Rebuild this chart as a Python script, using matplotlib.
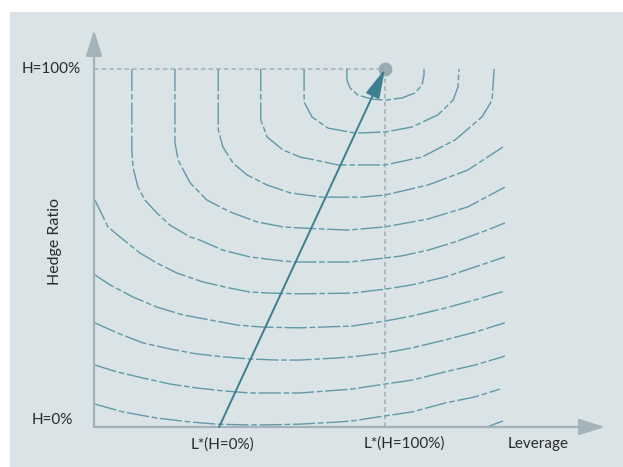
import matplotlib
matplotlib.use("Agg")
import matplotlib.pyplot as plt
from matplotlib.patches import Rectangle

# leverage in units where L*(H=100%) = 100, hedge ratio in %
lev_opt_h0 = 43.0
lev_opt_h100 = 100.0
lev_max = 175.6
hedge_max = 110.9

# iso-utility curves (leverage, hedge ratio %)
curves = [
    ([86.9, 86.9, 88.0, 90.7, 95.5, 100, 105.8, 110.3, 112.7, 113.4, 113.4],
     [100, 96.9, 94.7, 92.7, 91.6, 91.3, 91.9, 93.3, 95.5, 98.3, 100]),
    ([72.2, 72.2, 74.9, 80.4, 89.7, 100, 109.3, 118.2, 123.4, 125.1, 125.4],
     [100, 90.8, 86.6, 83.5, 82.1, 82.4, 83.8, 87.2, 91.3, 95.0, 100]),
    ([57.3, 57.3, 59.5, 64.9, 70.8, 75.9, 83.8, 100, 112.7, 124.1, 133.3, 136.8, 137.5],
     [100, 85.8, 81.0, 77.4, 75.4, 74.6, 73.2, 73.2, 75.4, 80.2, 86.6, 91.3, 100]),
    ([42.7, 42.7, 44.3, 47.8, 52.6, 59.5, 67.4, 78.4, 92.1, 100, 114.8, 128.5, 140.5],
     [100, 83.0, 78.2, 73.7, 70.4, 67.6, 65.4, 64.2, 64.2, 64.8, 67.6, 71.8, 78.2]),
    ([27.8, 27.8, 28.9, 33.0, 38.8, 46.7, 56.0, 64.9, 70.8, 87.3, 100, 114.8, 128.5, 141.2],
     [100, 79.6, 74.6, 68.2, 63.4, 60.1, 57.3, 55.9, 55.6, 55.0, 55.9, 58.1, 61.5, 67.0]),
    ([13.0, 13.0, 13.4, 15.1, 17.5, 21.6, 26.1, 33.0, 36.4, 44.3, 53.6, 64.6, 69.1, 88.0,
      100, 105.8, 114.8, 124.1, 135.1, 141.2],
     [100, 77.4, 72.6, 67.0, 63.4, 59.8, 56.4, 53.1, 52.2, 49.4, 47.5, 46.4, 46.1, 46.1,
      47.2, 47.8, 49.4, 51.7, 55.0, 57.0]),
    ([0.3, 4.8, 8.9, 15.8, 21.6, 28.5, 37.5, 46.7, 53.6, 60.5, 70.8, 88.7, 100, 109.3,
      120.6, 130.9, 141.2],
     [63.4, 55.9, 53.1, 48.6, 45.8, 43.0, 40.5, 38.8, 37.7, 37.4, 37.2, 37.4, 38.5, 39.7,
      41.9, 44.7, 47.5]),
    ([0.3, 5.5, 13.4, 21.6, 30.6, 39.9, 49.1, 58.1, 70.8, 88.7, 100, 109.3, 120.6, 130.9, 141.2],
     [42.5, 39.7, 36.3, 33.5, 31.3, 29.9, 28.5, 27.9, 27.7, 28.2, 29.6, 31.0, 33.2, 35.5, 38.0]),
    ([0.3, 7.9, 16.8, 26.1, 35.4, 44.3, 53.6, 62.9, 70.8, 83.8, 88.7, 100, 109.3, 120.6, 130.9, 141.2],
     [29.1, 26.3, 23.5, 21.8, 20.4, 19.6, 19.0, 18.7, 18.7, 19.3, 19.6, 20.7, 22.1, 24.3, 26.5, 29.1]),
    ([0.3, 7.9, 16.8, 26.1, 35.4, 44.3, 53.6, 62.9, 70.8, 83.8, 88.7, 100, 109.3, 120.6, 130.9, 141.2],
     [17.3, 15.4, 13.7, 12.0, 10.9, 10.1, 9.5, 9.5, 9.5, 10.3, 10.6, 12.0, 13.1, 15.4, 17.3, 19.8]),
    ([0.3, 10.0, 21.6, 33.0, 42.3, 51.2, 60.5, 70.8, 83.8, 88.7, 100, 109.3, 120.6, 130.9, 139.5],
     [6.4, 4.2, 2.5, 1.4, 0.8, 0.6, 0.6, 0.8, 1.4, 1.7, 3.1, 4.2, 6.7, 8.4, 10.6]),
    ([135.1, 140.5],
     [0, 1.7]),
]

plt.rcParams['font.family'] = ['Lato', 'DejaVu Sans']
axis_col = "#a3b3b9"
txt_col = "#2b2b2b"

fig = plt.figure(figsize=(6.23, 4.67), dpi=100)
fig.patch.set_facecolor("white")
# grey-blue panel behind the chart
fig.patches.append(Rectangle((10 / 623, 0), 613 / 623, 455 / 467, transform=fig.transFigure,
                             facecolor="#dae3e6", edgecolor="none", zorder=-10))

ax = fig.add_axes([94 / 623, 40 / 467, 520 / 623, 400 / 467])
ax.set_zorder(1)
ax.set_xlim(0, 520 / 2.91)
ax.set_ylim(0, 400 / 3.58)
ax.patch.set_alpha(0)
for s in ax.spines.values():
    s.set_visible(False)
ax.set_xticks([])
ax.set_yticks([])

# axes with arrow heads
arr = dict(arrowstyle="-|>,head_length=1.6,head_width=0.5", color=axis_col, lw=1.6,
           shrinkA=0, shrinkB=0)
ax.annotate("", xy=(0, hedge_max), xytext=(0, 0), arrowprops=arr, annotation_clip=False)
ax.annotate("", xy=(lev_max, 0), xytext=(0, 0), arrowprops=arr, annotation_clip=False)

# reference dashed lines
ax.plot([0, lev_opt_h100], [100, 100], color="#a0b0b6", lw=1.1, ls=(0, (3, 2)))
ax.plot([lev_opt_h100, lev_opt_h100], [0, 100], color="#a0b0b6", lw=1.1, ls=(0, (3, 2)))

for lx, hy in curves:
    ax.plot(lx, hy, color="#6099a8", lw=1.0, ls=(0, (16, 2, 4, 2)), solid_capstyle="butt")

# optimum point and path of optimal leverage
ax.plot([lev_opt_h100], [100], "o", ms=9, color="#9aacb3", zorder=5)
ax.annotate("", xy=(lev_opt_h100, 100), xytext=(lev_opt_h0, 0),
            arrowprops=dict(arrowstyle="-|>,head_length=1.8,head_width=0.45",
                            color="#3e7f8f", lw=1.4, shrinkA=0, shrinkB=0), zorder=6)

ax.text(-4.5, 100, "H=100%", ha="right", va="center", fontsize=11, color=txt_col)
ax.text(-7.2, 2.0, "H=0%", ha="right", va="center", fontsize=11, color=txt_col)
ax.text(-13.4, 51.7, "Hedge Ratio", ha="center", va="center", rotation=90, fontsize=11.5,
        color=txt_col)
ax.text(44, -5.0, "L*(H=0%)", ha="center", va="center", fontsize=11, color=txt_col)
ax.text(106.7, -4.7, "L*(H=100%)", ha="center", va="center", fontsize=11, color=txt_col)
ax.text(152.6, -4.7, "Leverage", ha="center", va="center", fontsize=11, color=txt_col)

fig.savefig("out.png", dpi=100, facecolor=fig.get_facecolor())
